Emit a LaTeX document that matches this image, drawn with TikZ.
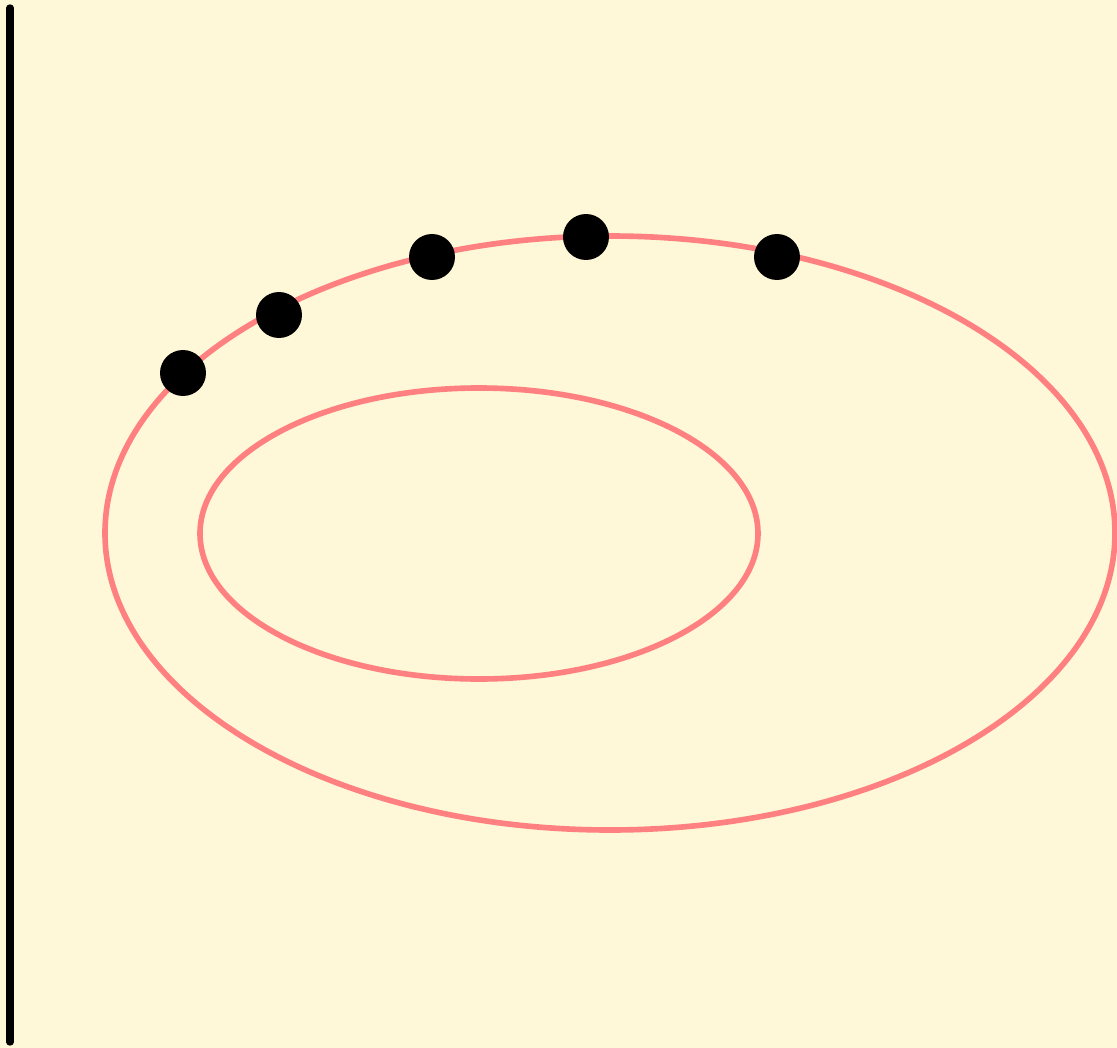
\documentclass[tikz,border=0pt]{standalone}
\definecolor{cream}{HTML}{FEF8D8}
\definecolor{salmon}{HTML}{FF8080}
\tikzset{
  orbit/.style={draw=salmon, line width=3.2pt},
  bead/.style={circle, fill=black, inner sep=0pt, minimum size=0.92cm}
}
\begin{document}
\begin{tikzpicture}[x=0.02cm, y=-0.02cm]
      % Draw the background frame
      \fill[cream] (0,0) rectangle (1117,1048);
      \useasboundingbox (0,0) rectangle (1117,1048);
      % Draw the wall
      \coordinate (wtop) at (10,8);
      \coordinate (wbot) at (10,1042);
      \draw[line width=4.2pt, line cap=round] (wtop) -- (wbot);
      % Draw the two ellipses
      \draw[orbit] (610,533) ellipse [x radius=505, y radius=297];
      \draw[orbit] (479,533.5) ellipse [x radius=279, y radius=145.5];
      % Place the beads
      \node[bead] (b1) at (183,373) {};
      \node[bead] (b2) at (279,315) {};
      \node[bead] (b3) at (432,257) {};
      \node[bead] (b4) at (586,237) {};
      \node[bead] (b5) at (777,257) {};
    \end{tikzpicture}
\end{document}
